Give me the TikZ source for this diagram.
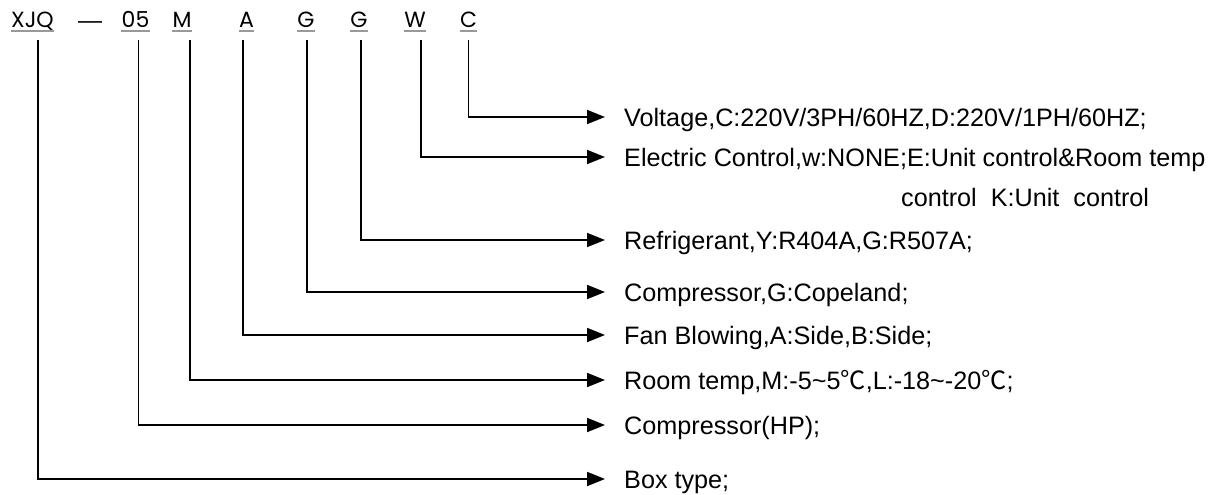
\documentclass[tikz,border=0pt]{standalone}
\usepackage{fontspec}
\setmainfont{Liberation Sans}
\newfontfamily\codefont{Poppins}
\newfontfamily\cjkf{Noto Sans CJK SC}
\usetikzlibrary{arrows.meta}
\begin{document}
\begin{tikzpicture}[x=1pt,y=-1pt,
  conn/.style={line width=1.8pt,-{Triangle[length=18pt,width=14pt]}},
  lab/.style={anchor=base west,inner sep=0pt,font=\fontsize{25.2}{30}\selectfont},
  code/.style={anchor=base,inner sep=0pt,font=\codefont\fontsize{22}{26}\selectfont},
  uline/.style={draw=black!40,line width=2pt}]
\useasboundingbox (0,0) rectangle (1215,495);
% code letters
\node[code] (t1) at (32.5,27.5) {XJQ};
\node[anchor=base,inner sep=0pt,font=\fontsize{24}{26}\selectfont] (t2) at (90,29) {—};
\node[code] (t3) at (135.5,27.5) {05};
\node[code] (t4) at (182,27.5) {M};
\node[code] (t5) at (246.5,27.5) {A};
\node[code] (t6) at (306,27.5) {G};
\node[code] (t7) at (359,27.5) {G};
\node[code] (t8) at (415,27.5) {W};
\node[code] (t9) at (468.5,27.5) {C};
\foreach \n in {t1,t3,t4,t5,t6,t7,t8,t9}
  \draw[uline] ([yshift=-3.5pt]\n.base west) -- ([yshift=-3.5pt]\n.base east);
% labels
\node[lab] (l9) at (624,126) {Voltage,C:220V/3PH/60HZ,D:220V/1PH/60HZ;};
\node[lab] (l8) at (624,166) {Electric Control,w:NONE;E:Unit control\&Room temp};
\node[lab] (l8b) at (901,206) {control\ \ K:Unit\ \ control};
\node[lab] (l7) at (624,249) {Refrigerant,Y:R404A,G:R507A;};
\node[lab] (l6) at (624,301) {Compressor,G:Copeland;};
\node[lab] (l5) at (624,344) {Fan Blowing,A:Side,B:Side;};
\node[lab] (l4) at (624,389) {Room temp,M:-5\textasciitilde 5{\cjkf ℃},L:-18\textasciitilde -20{\cjkf ℃};};
\node[lab] (l3) at (624,434) {Compressor(HP);};
\node[lab] (l1) at (624,488) {Box type;};
% connector ends
\coordinate (s1) at (38,40);    \coordinate (e1) at (605,479);
\coordinate (s3) at (138.5,40); \coordinate (e3) at (605,425);
\coordinate (s4) at (190,40);   \coordinate (e4) at (605,380);
\coordinate (s5) at (243,40);   \coordinate (e5) at (605,335);
\coordinate (s6) at (307,40);   \coordinate (e6) at (605,292);
\coordinate (s7) at (361,40);   \coordinate (e7) at (605,240);
\coordinate (s8) at (421,40);   \coordinate (e8) at (605,157);
\coordinate (s9) at (468.5,40); \coordinate (e9) at (605,117);
\foreach \i in {1,3,4,5,6,7,8,9}
  \draw[conn] (s\i) |- (e\i);
\end{tikzpicture}
\end{document}
